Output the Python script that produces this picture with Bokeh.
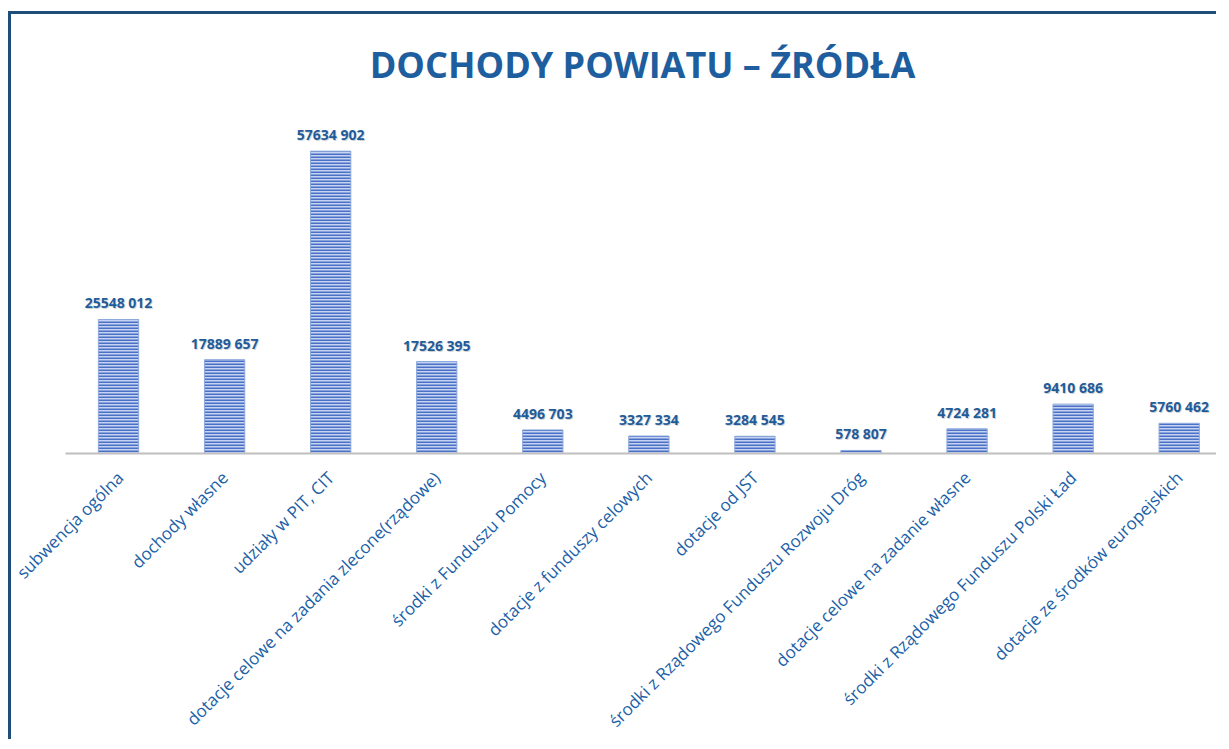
import math
from bokeh.plotting import figure
from bokeh.models import Range1d, FixedTicker, ColumnDataSource
from bokeh.core.properties import value
from bokeh.embed import file_html
from bokeh.resources import INLINE

categories = [
    "subwencja ogólna",
    "dochody własne",
    "udziały w PIT, CIT",
    "dotacje celowe na zadania zlecone(rządowe)",
    "środki z Funduszu Pomocy",
    "dotacje z funduszy celowych",
    "dotacje od JST",
    "środki z Rządowego Funduszu Rozwoju Dróg",
    "dotacje celowe na zadanie własne",
    "środki z Rządowego Funduszu Polski Ład",
    "dotacje ze środków europejskich",
]
values = [25548012, 17889657, 57634902, 17526395, 4496703, 3327334,
          3284545, 578807, 4724281, 9410686, 5760462]
value_labels = ["25548 012", "17889 657", "57634 902", "17526 395", "4496 703",
                "3327 334", "3284 545", "578 807", "4724 281", "9410 686", "5760 462"]

xs = list(range(len(categories)))
src = ColumnDataSource(dict(x=xs, top=values, lab=value_labels))

p = figure(width=1208, height=728, output_backend="svg", toolbar_location=None,
           x_range=Range1d(-0.5, 10.38), y_range=Range1d(0, 68.25e6),
           min_border_left=54, min_border_right=0, min_border_top=81,
           min_border_bottom=10,
           title="DOCHODY POWIATU – ŹRÓDŁA")
p.styles = {"border-left": "3px solid #1F4E79", "border-top": "3px solid #1F4E79",
            "margin-top": "11px", "margin-left": "8px"}

p.title.align = "center"
p.title.text_font = "Open Sans"
p.title.text_font_size = "36px"
p.title.text_font_style = "bold"
p.title.text_color = "#1E5E9E"
p.title.standoff = 14
p.title.offset = -26

p.outline_line_color = None
p.background_fill_color = "white"
p.border_fill_color = "white"
p.xgrid.visible = False
p.ygrid.visible = False
p.yaxis.visible = False

p.vbar(x="x", top="top", width=0.38, bottom=0, source=src,
       fill_color="#C5D3F0", line_color="#8EA9DB", line_width=1,
       hatch_pattern="horizontal_line", hatch_color="#4A70C8",
       hatch_scale=3, hatch_weight=2)

# shadow + value labels
p.text(x="x", y="top", text="lab", source=src, text_align="center",
       text_baseline="bottom", y_offset=-6, x_offset=1,
       text_font=value("Open Sans"), text_font_size="14px", text_font_style="bold",
       text_color="#7F7F7F", text_alpha=0.35)
p.text(x="x", y="top", text="lab", source=src, text_align="center",
       text_baseline="bottom", y_offset=-7,
       text_font=value("Open Sans"), text_font_size="14px", text_font_style="bold",
       text_color="#1F5C99")

ax = p.xaxis[0]
ax.ticker = FixedTicker(ticks=xs)
ax.major_label_overrides = {i: c for i, c in enumerate(categories)}
ax.major_label_orientation = math.pi / 4
ax.major_label_text_font = "Open Sans"
ax.major_label_text_font_size = "17px"
ax.major_label_text_color = "#1B5FA8"
ax.major_label_standoff = 15
ax.major_tick_line_color = None
ax.minor_tick_line_color = None
ax.axis_line_color = "#BFBFBF"
ax.axis_line_width = 2

open("out.html", "w").write(file_html(p, INLINE))
